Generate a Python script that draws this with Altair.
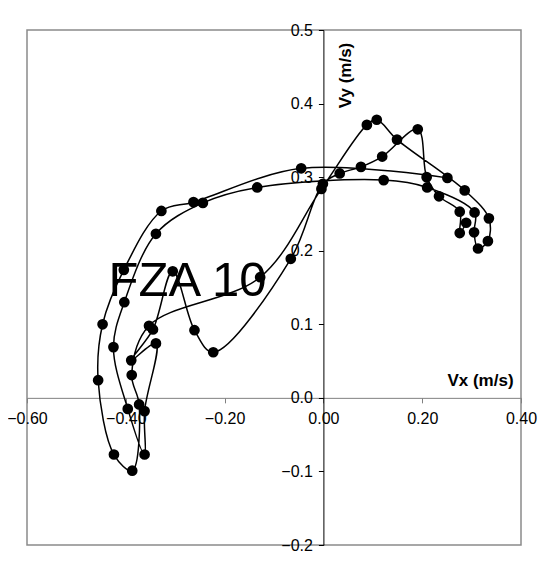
import altair as alt
import pandas as pd

# Hodograph samples in drawing order
vx = [0.251, -0.045, -0.263, -0.328, -0.404, -0.447, -0.456, -0.424, -0.387, -0.373,
      -0.388, -0.353, -0.128, -0.004, 0.088, 0.108, 0.149, 0.286, 0.335, 0.333,
      0.313, 0.305, 0.306, 0.210, 0.122, -0.134, -0.244, -0.339, -0.403, -0.425,
      -0.396, -0.362, -0.362, -0.339, -0.389, -0.345, -0.305, -0.261, -0.223, -0.066,
      -0.001, 0.033, 0.076, 0.119, 0.191, 0.209, 0.234, 0.276, 0.276, 0.289]
vy = [0.299, 0.312, 0.266, 0.254, 0.174, 0.100, 0.024, -0.077, -0.099, -0.009,
      0.031, 0.098, 0.164, 0.284, 0.371, 0.378, 0.351, 0.282, 0.244, 0.213,
      0.203, 0.225, 0.252, 0.286, 0.296, 0.286, 0.265, 0.223, 0.130, 0.069,
      -0.015, -0.077, -0.018, 0.074, 0.051, 0.093, 0.172, 0.092, 0.062, 0.189,
      0.291, 0.305, 0.314, 0.328, 0.365, 0.300, 0.274, 0.253, 0.224, 0.238]

x_ticks = [-0.6, -0.4, -0.2, 0.0, 0.2, 0.4]
y_ticks = [-0.2, -0.1, 0.0, 0.1, 0.2, 0.3, 0.4, 0.5]

label_text = ["FZA 10"]
label_x = [-0.275]
label_y = [0.138]

df = pd.DataFrame({"vx": vx, "vy": vy, "i": list(range(len(vx)))})
lab = pd.DataFrame({"vx": label_x, "vy": label_y, "t": label_text})

W, H = 494, 515
x_off = -(0.6 / 1.0) * W          # y axis at vx = 0
y_off = (0.5 / 0.7) * H - H       # x axis at vy = 0

xscale = alt.Scale(domain=[-0.6, 0.4], nice=False, zero=False)
yscale = alt.Scale(domain=[-0.2, 0.5], nice=False, zero=False)

xaxis = alt.Axis(values=x_ticks, format=".2f", grid=False, offset=y_off,
                 domainColor="#808080", domainWidth=1, tickColor="#808080",
                 tickSize=5, labelPadding=8, labelFont="Liberation Sans",
                 labelFontSize=16, labelColor="black", labelFlush=False,
                 title="Vx (m/s)", titleX=453, titleY=-17, titleAlign="center",
                 titleBaseline="middle", titleFont="Liberation Sans",
                 titleFontSize=17, titleFontWeight="bold", titleColor="black")
yaxis = alt.Axis(values=y_ticks, format=".1f", grid=False, offset=x_off,
                 domainColor="black", domainWidth=1, tickColor="black",
                 tickSize=5, labelPadding=6, labelFont="Liberation Sans",
                 labelFontSize=16, labelColor="black", labelFlush=False,
                 title="Vy (m/s)", titleX=22, titleY=45, titleAngle=270,
                 titleAlign="center", titleBaseline="middle",
                 titleFont="Liberation Sans", titleFontSize=17,
                 titleFontWeight="bold", titleColor="black")

X = alt.X("vx:Q", scale=xscale, axis=xaxis)
Y = alt.Y("vy:Q", scale=yscale, axis=yaxis)

line = alt.Chart(df).mark_line(color="black", strokeWidth=1.5,
                               interpolate="catmull-rom").encode(
    x=X, y=Y, order=alt.Order("i:Q"))
pts = alt.Chart(df).mark_circle(size=115, color="black", opacity=1).encode(x=X, y=Y)
txt = alt.Chart(lab).mark_text(font="Comic Sans MS, Liberation Sans", fontSize=49,
                               align="center", baseline="alphabetic",
                               color="black").encode(x=X, y=Y, text="t:N")

chart = alt.layer(line, pts, txt).properties(
    width=W, height=H,
    autosize=alt.AutoSizeParams(type="none"),
    padding={"left": 19, "top": 22, "right": 27, "bottom": 22},
    background="white",
).configure_view(stroke="#8a8a8a", strokeWidth=1.5)

chart.save("out.html", embed_options={"renderer": "svg", "actions": False})
